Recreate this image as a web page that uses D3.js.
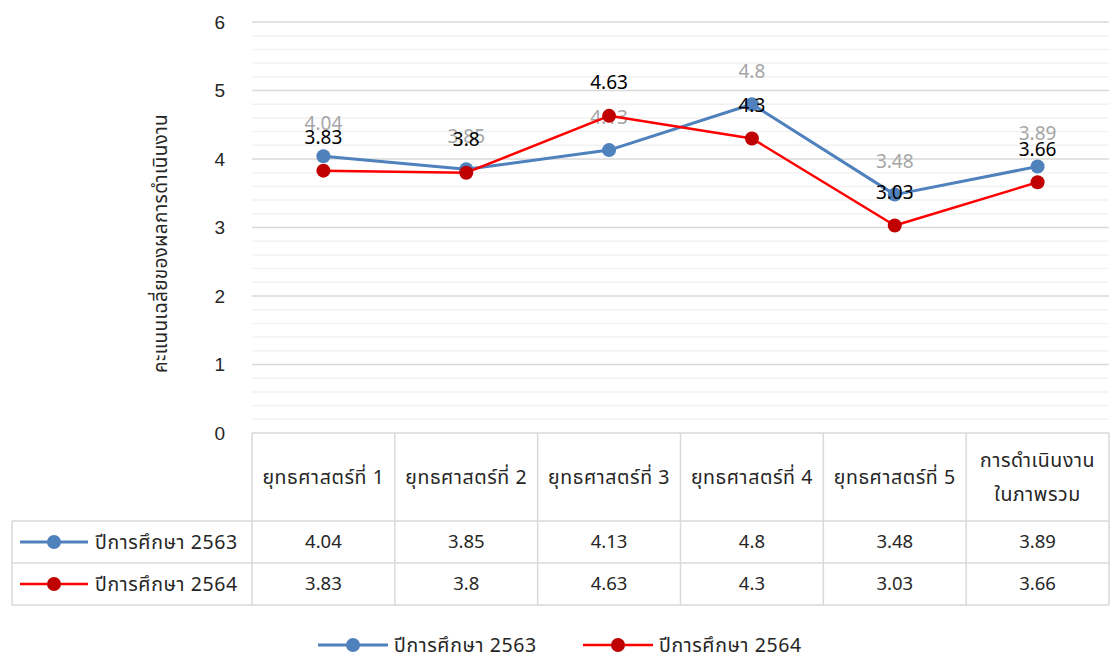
<!DOCTYPE html>
<html>
<head>
<meta charset="utf-8">
<script src="https://cdn.jsdelivr.net/npm/d3@7"></script>
<style>
  body { margin: 0; background: #fff; }
  svg { display: block; font-family: "Noto Sans Thai", "Noto Sans", "DejaVu Sans", sans-serif; }
</style>
</head>
<body>
<svg></svg>
<script>
// data
var categories = ['ยุทธศาสตร์ที่ 1', 'ยุทธศาสตร์ที่ 2', 'ยุทธศาสตร์ที่ 3', 'ยุทธศาสตร์ที่ 4', 'ยุทธศาสตร์ที่ 5', 'การดำเนินงาน\nในภาพรวม'];
var seriesNames = ['ปีการศึกษา 2563', 'ปีการศึกษา 2564'];
var values2563 = [4.04, 3.85, 4.13, 4.8, 3.48, 3.89];
var values2564 = [3.83, 3.8, 4.63, 4.3, 3.03, 3.66];
var yTicks = [0, 1, 2, 3, 4, 5, 6];
var yTitle = 'คะแนนเฉลี่ยของผลการดำเนินงาน';

var width = 1110;
var height = 658;
var svg = d3.select('svg')
	.attr('width', width)
	.attr('height', height);

var padding = {
	top: 22,
	left: 252,
	right: 1,
	bottom: 225
};

var color = {
	s2563: { line: '#4F81BD', dot: '#4F81BD', label: '#a6a6a6' },
	s2564: { line: '#FF0000', dot: '#C00000', label: '#000000' }
};
var series = [
	{ name: seriesNames[0], values: values2563, c: color.s2563 },
	{ name: seriesNames[1], values: values2564, c: color.s2564 }
];

var thaiSize = 19.5;
var thaiSpacing = 0.6;

var xScale = d3.scaleBand()
	.domain(categories)
	.range([padding.left, width - padding.right]);

var yScale = d3.scaleLinear()
	.domain([0, 6])
	.range([height - padding.bottom, padding.top]);

// minor then major gridlines
svg.append('g')
	.selectAll('line')
	.data(yScale.ticks(30).filter(d => Math.abs(d - Math.round(d)) > 1e-6))
	.enter()
	.append('line')
	.attr('x1', padding.left)
	.attr('x2', width - padding.right)
	.attr('y1', d => yScale(d))
	.attr('y2', d => yScale(d))
	.attr('stroke', '#f2f2f2')
	.attr('stroke-width', 1.5);

svg.append('g')
	.selectAll('line')
	.data(yTicks.slice(1))
	.enter()
	.append('line')
	.attr('x1', padding.left)
	.attr('x2', width - padding.right)
	.attr('y1', d => yScale(d))
	.attr('y2', d => yScale(d))
	.attr('stroke', '#d9d9d9')
	.attr('stroke-width', 1.5);

// y axis
var yAxis = svg.append('g')
	.attr('transform', 'translate(' + (padding.left - 27) + ',0)')
	.call(d3.axisLeft(yScale).tickValues(yTicks).tickFormat(d3.format('d')).tickSize(0).tickPadding(0));
yAxis.select('.domain').remove();
yAxis.selectAll('text')
	.attr('font-size', 19)
	.attr('font-family', null)
	.attr('fill', '#262626');

svg.append('text')
	.attr('text-anchor', 'middle')
	.attr('transform', 'translate(167,' + ((yScale(0) + yScale(6)) / 2 + 16) + ') rotate(-90)')
	.attr('font-size', 19)
	.attr('letter-spacing', 0.3)
	.attr('fill', '#262626')
	.text(yTitle);

// table
var rowTop = yScale(0);
var headerBottom = 521;
var rowH = 42;
var tableLeft = 12;
var tableRight = width - padding.right;
var grid = svg.append('g').attr('stroke', '#d9d9d9').attr('stroke-width', 1.5);

grid.append('line').attr('x1', padding.left).attr('x2', tableRight).attr('y1', rowTop).attr('y2', rowTop);
[0, 1, 2].forEach(function(i) {
	grid.append('line')
		.attr('x1', tableLeft).attr('x2', tableRight)
		.attr('y1', headerBottom + i * rowH).attr('y2', headerBottom + i * rowH);
});
grid.append('line').attr('x1', tableLeft).attr('x2', tableLeft)
	.attr('y1', headerBottom).attr('y2', headerBottom + 2 * rowH);
categories.forEach(function(c) {
	grid.append('line').attr('x1', xScale(c)).attr('x2', xScale(c))
		.attr('y1', rowTop).attr('y2', headerBottom + 2 * rowH);
});
grid.append('line').attr('x1', tableRight).attr('x2', tableRight)
	.attr('y1', rowTop).attr('y2', headerBottom + 2 * rowH);

// header cells
svg.append('g')
	.selectAll('text')
	.data(categories)
	.enter()
	.append('text')
	.attr('text-anchor', 'middle')
	.attr('font-size', thaiSize)
	.attr('letter-spacing', thaiSpacing)
	.attr('fill', '#262626')
	.each(function(d) {
		var lines = d.split('\n');
		var cx = xScale(d) + xScale.bandwidth() / 2;
		var cy = (rowTop + headerBottom) / 2;
		var t = d3.select(this);
		lines.forEach(function(l, i) {
			t.append('tspan')
				.attr('x', cx)
				.attr('y', cy + (i - (lines.length - 1) / 2) * 34)
				.attr('dy', '0.35em')
				.text(l);
		});
	});

// value rows
series.forEach(function(s, r) {
	var cy = headerBottom + r * rowH + rowH / 2;
	var row = svg.append('g');
	row.append('line')
		.attr('x1', 20).attr('x2', 88).attr('y1', cy).attr('y2', cy)
		.attr('stroke', s.c.line).attr('stroke-width', r == 0 ? 3 : 2.5);
	row.append('circle')
		.attr('cx', 54).attr('cy', cy).attr('r', 7)
		.attr('fill', s.c.dot);
	row.append('text')
		.attr('x', 95).attr('y', cy).attr('dy', '0.35em')
		.attr('font-size', thaiSize).attr('letter-spacing', thaiSpacing)
		.attr('fill', '#262626')
		.text(s.name);
	row.selectAll('.val')
		.data(s.values)
		.enter()
		.append('text')
		.attr('class', 'val')
		.attr('x', (d, i) => xScale(categories[i]) + xScale.bandwidth() / 2)
		.attr('y', cy)
		.attr('dy', '0.35em')
		.attr('text-anchor', 'middle')
		.attr('font-size', 18.5)
		.attr('fill', '#262626')
		.text(d => d);
});

// lines, markers and data labels
var line = d3.line()
	.x((d, i) => xScale(categories[i]) + xScale.bandwidth() / 2)
	.y(d => yScale(d));

series.forEach(function(s, r) {
	var g = svg.append('g');
	g.append('path')
		.datum(s.values)
		.attr('d', line)
		.attr('fill', 'none')
		.attr('stroke', s.c.line)
		.attr('stroke-width', r == 0 ? 3 : 2.5)
		.attr('stroke-linejoin', 'round');
	g.selectAll('circle')
		.data(s.values)
		.enter()
		.append('circle')
		.attr('cx', (d, i) => xScale(categories[i]) + xScale.bandwidth() / 2)
		.attr('cy', d => yScale(d))
		.attr('r', 7)
		.attr('fill', s.c.dot);
	g.selectAll('text')
		.data(s.values)
		.enter()
		.append('text')
		.attr('x', (d, i) => xScale(categories[i]) + xScale.bandwidth() / 2)
		.attr('y', d => yScale(d) - 33)
		.attr('dy', '0.35em')
		.attr('text-anchor', 'middle')
		.attr('font-size', 19)
		.attr('fill', s.c.label)
		.text(d => d);
});

// bottom legend
var legend = svg.append('g');
var legendX = [318, 583];
series.forEach(function(s, i) {
	var lx = legendX[i];
	var ly = 645;
	legend.append('line')
		.attr('x1', lx).attr('x2', lx + 70).attr('y1', ly).attr('y2', ly)
		.attr('stroke', s.c.line).attr('stroke-width', i == 0 ? 3 : 2.5);
	legend.append('circle')
		.attr('cx', lx + 35).attr('cy', ly).attr('r', 7)
		.attr('fill', s.c.dot);
	legend.append('text')
		.attr('x', lx + 76).attr('y', ly).attr('dy', '0.35em')
		.attr('font-size', thaiSize).attr('letter-spacing', thaiSpacing)
		.attr('fill', '#262626')
		.text(s.name);
});
</script>
</body>
</html>
